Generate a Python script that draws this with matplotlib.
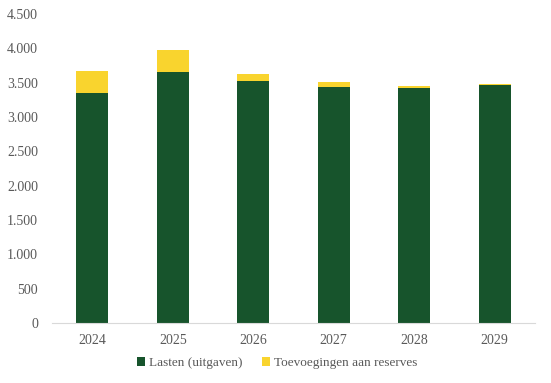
import matplotlib
matplotlib.use('Agg')
import matplotlib.pyplot as plt
from matplotlib.ticker import FuncFormatter

jaren = ['2024', '2025', '2026', '2027', '2028', '2029']
lasten = [3350, 3655, 3525, 3440, 3425, 3465]
toevoegingen = [320, 325, 100, 70, 27, 15]

groen = '#17542c'
geel = '#f9d42e'

plt.rcParams['font.family'] = ['Liberation Serif', 'DejaVu Serif']

fig = plt.figure(figsize=(5.51, 3.83), dpi=100)
ax = fig.add_axes([52/551, 1 - 323/383, (535-52)/551, (323-14)/383])

x = range(len(jaren))
ax.bar(x, lasten, width=0.4, color=groen, label='Lasten (uitgaven)')
ax.bar(x, toevoegingen, width=0.4, bottom=lasten, color=geel, label='Toevoegingen aan reserves')

ax.set_xlim(-0.5, len(jaren) - 0.5)
ax.set_ylim(0, 4500)
ax.set_yticks(range(0, 4501, 500))
ax.yaxis.set_major_formatter(FuncFormatter(lambda v, p: f'{int(v):,}'.replace(',', '.')))
ax.set_xticks(list(x))
ax.set_xticklabels(jaren)

for s in ['top', 'right', 'left']:
    ax.spines[s].set_visible(False)
ax.spines['bottom'].set_color('#d9d9d9')
ax.tick_params(axis='both', length=0, colors='#595959', labelsize=10)
ax.tick_params(axis='y', pad=10)
ax.tick_params(axis='x', pad=8)

fig.legend(loc='center', bbox_to_anchor=(0.503, 1 - 363/383), ncol=2, frameon=False,
           fontsize=9.5, handlelength=0.6, handleheight=0.6, handletextpad=0.3,
           columnspacing=1.5, labelcolor='#595959')

fig.savefig('out.png', dpi=100)
